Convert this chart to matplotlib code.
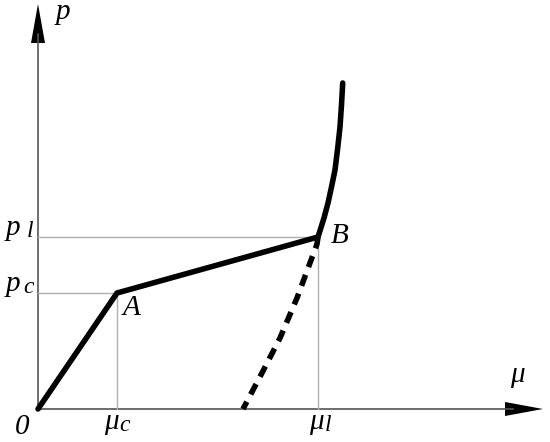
import matplotlib.pyplot as plt

plt.rcParams["font.family"] = "serif"
plt.rcParams["font.serif"] = ["Liberation Serif", "DejaVu Serif"]

# key points (units = pixels from the origin)
mu_c, p_c = 79, 116
mu_l, p_l = 280, 172

# loading path O -> A -> B -> up
load_mu = [0, mu_c, mu_l, 286, 290, 293.5, 297, 299.7, 302, 303.5, 304.7]
load_p = [0, p_c, p_l, 191, 206, 222, 239, 261, 282, 304, 326]

# unloading path from B (dashed)
unload_mu = [mu_l, 279, 269, 259, 242, 225, 205]
unload_p = [p_l, 165, 138, 111, 71, 38, 0]

x_end = 505
y_end = 405


def label(ax, x, y, main, sub=None, size=21, sub_size=17, sub_dx=0):
    ax.text(x, y, main, fontsize=size, ha="center", va="baseline",
            style="italic")
    if sub:
        ax.text(x + sub_dx, y - 2, sub, fontsize=sub_size, ha="center",
                va="baseline", style="italic")


def main():
    fig = plt.figure(figsize=(5.5, 4.42), dpi=100)
    ax = fig.add_axes([0, 0, 1, 1])
    ax.set_xlim(-38, 512)
    ax.set_ylim(-33, 409)
    ax.axis("off")

    axis_color = "#555555"
    guide_color = "#b0b0b0"

    # axes with arrow heads
    ax.plot([0, x_end - 30], [0, 0], color=axis_color, lw=1.2)
    ax.plot([0, 0], [0, y_end - 30], color=axis_color, lw=1.2)
    ax.fill([x_end - 38, x_end, x_end - 38], [7, 0, -7], color="black", lw=0)
    ax.fill([-7, 0, 7], [y_end - 39, y_end, y_end - 39], color="black", lw=0)

    # guide lines
    ax.plot([0, mu_c], [p_c, p_c], color=guide_color, lw=1)
    ax.plot([mu_c, mu_c], [0, p_c], color=guide_color, lw=1)
    ax.plot([0, mu_l], [p_l, p_l], color=guide_color, lw=1)
    ax.plot([mu_l, mu_l], [0, p_l], color=guide_color, lw=1)

    ax.plot(load_mu, load_p, color="black", lw=4, solid_joinstyle="round",
            solid_capstyle="round")
    ax.plot(unload_mu, unload_p, color="black", lw=4, ls=(0, (2.1, 1.5)))

    label(ax, 25, 390, "p")
    label(ax, 479, 27, "μ")
    label(ax, -16, -25, "0")
    label(ax, 73, -20, "μ", "c", sub_dx=14)
    label(ax, 278, -20, "μ", "l", sub_dx=12)
    label(ax, -25, p_l + 2, "p", "l", sub_dx=17)
    label(ax, -25, p_c + 2, "p", "c", sub_dx=16)
    label(ax, mu_c + 14, p_c - 22, "A")
    label(ax, mu_l + 22, p_l - 6, "B")

    fig.savefig("out.png", dpi=100)


if __name__ == "__main__":
    main()
